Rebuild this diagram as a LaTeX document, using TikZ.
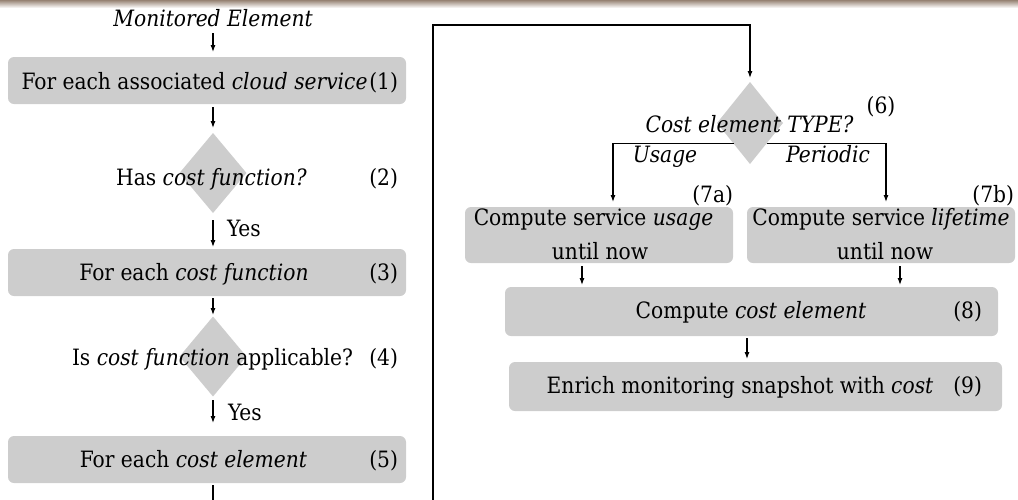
\documentclass[tikz,border=0pt]{standalone}
\usepackage{fontspec}
\setmainfont{DejaVu Serif Condensed}
\usetikzlibrary{shapes.geometric,arrows.meta,calc}
\definecolor{boxgray}{RGB}{205,205,205}
\definecolor{barbrown}{RGB}{150,130,115}

\begin{document}
\begin{tikzpicture}[x=1pt,y=-1pt,
  every node/.style={font=\fontsize{22.5}{32}\selectfont, inner sep=0pt, outer sep=0pt},
  stepbox/.style={fill=boxgray, rounded corners=6pt, minimum height=47pt},
  decision/.style={diamond, fill=boxgray, minimum width=67pt, minimum height=80pt, inner sep=0pt},
  lbl/.style={anchor=base},
  num/.style={anchor=base east},
  flow/.style={line width=1.1pt, -{Latex[length=7pt,width=5pt]}}
]
% page frame
\useasboundingbox (0,0) rectangle (1018,499);
\clip (0,0) rectangle (1018,499);
\shade[top color=barbrown, bottom color=white] (0,0) rectangle (1018,8);

% ---- left column: iteration over services / functions / elements ----
\node[lbl] (me) at (213,26) {\itshape Monitored Element};

\node[stepbox, minimum width=398pt] (b1) at (207,80.5) {};
\node[decision] (d2) at (213,173) {};
\node[stepbox, minimum width=398pt] (b3) at (207,272.5) {};
\node[decision] (d4) at (213,356.5) {};
\node[stepbox, minimum width=398pt] (b5) at (207,459.5) {};

% ---- right column: cost computation ----
\node[decision, minimum width=66pt, minimum height=82pt] (d6) at (750,123) {};
\node[stepbox, minimum width=268pt, minimum height=56pt] (b7a) at (599,235) {};
\node[stepbox, minimum width=268pt, minimum height=56pt] (b7b) at (881,235) {};
\node[stepbox, minimum width=493pt, minimum height=49pt] (b8) at (751.5,311.5) {};
\node[stepbox, minimum width=493pt, minimum height=49pt] (b9) at (755.5,386.5) {};

% helper points for the connectors
\coordinate (lb) at (213,515);
\coordinate (lc) at (433,515);
\coordinate (lt) at (433,25);
\coordinate (u7a) at (613,207);
\coordinate (u7b) at (886,207);
\coordinate (c7a) at (582,0);
\coordinate (c7b) at (900,0);
\coordinate (c8) at (747,0);

% ---- connectors ----
\draw[flow, shorten <=7pt, shorten >=5pt] (me.south) -- (b1.north -| me.south);
\draw[flow, shorten <=3pt, shorten >=5pt] (b1.south -| d2.north) -- (d2.north);
\draw[flow, shorten <=7pt, shorten >=2pt] (d2.south) -- (b3.north -| d2.south);
\draw[flow, shorten <=2pt, shorten >=1.5pt] (b3.south -| d4.north) -- (d4.north);
\draw[flow, shorten <=3.5pt, shorten >=13pt] (d4.south) -- (b5.north -| d4.south);
\draw[flow, shorten <=2pt, shorten >=4pt] (b5.south -| d4.south) -- (lb) -- (lc) -- (lt) -- (lt -| d6.north) -- (d6.north);
\draw[flow, shorten >=5pt] (d6.south west) -| (u7a);
\draw[flow, shorten >=5pt] (d6.south east) -| (u7b);
\draw[flow, shorten <=3pt, shorten >=2pt] (b7a.south -| c7a) -- (b8.north -| c7a);
\draw[flow, shorten <=3pt, shorten >=2pt] (b7b.south -| c7b) -- (b8.north -| c7b);
\draw[flow, shorten <=2pt, shorten >=3pt] (b8.south -| c8) -- (b9.north -| c8);

% ---- texts ----
\node[lbl] (t1) at (194.5,89) {For each associated \textit{cloud service}};
\node[num] (n1) at (398,89) {(1)};
\node[lbl] (t2) at (211.5,185) {Has \textit{cost function?}};
\node[num] (n2) at (398,185) {(2)};
\node[anchor=base west] (y2) at (227,236) {Yes};
\node[lbl] (t3) at (194,280) {For each \textit{cost function}};
\node[num] (n3) at (398,280) {(3)};
\node[lbl] (t4) at (212.5,365) {Is \textit{cost function} applicable?};
\node[num] (n4) at (398,365) {(4)};
\node[anchor=base west] (y4) at (228,420) {Yes};
\node[lbl] (t5) at (193.5,467.5) {For each \textit{cost element}};
\node[num] (n5) at (398,467.5) {(5)};

\node[lbl] (t6) at (749.5,132) {\itshape Cost element TYPE?};
\node[lbl] (n6) at (881,113) {(6)};
\node[lbl] (lu) at (665,162) {\itshape Usage};
\node[lbl] (lp) at (828,162) {\itshape Periodic};
\node[num] (n7a) at (733,202) {(7a)};
\node[num] (n7b) at (1014,202) {(7b)};
\node[lbl] (t7a) at (593.5,225) {Compute service \textit{usage}};
\node[lbl] (t7aa) at (600,259) {until now};
\node[lbl] (t7b) at (881,225) {Compute service \textit{lifetime}};
\node[lbl] (t7bb) at (885,259) {until now};
\node[lbl] (t8) at (751,318) {Compute \textit{cost element}};
\node[num] (n8) at (982,318) {(8)};
\node[lbl] (t9) at (740,393) {Enrich monitoring snapshot with \textit{cost}};
\node[num] (n9) at (982,393) {(9)};
\end{tikzpicture}
\end{document}
